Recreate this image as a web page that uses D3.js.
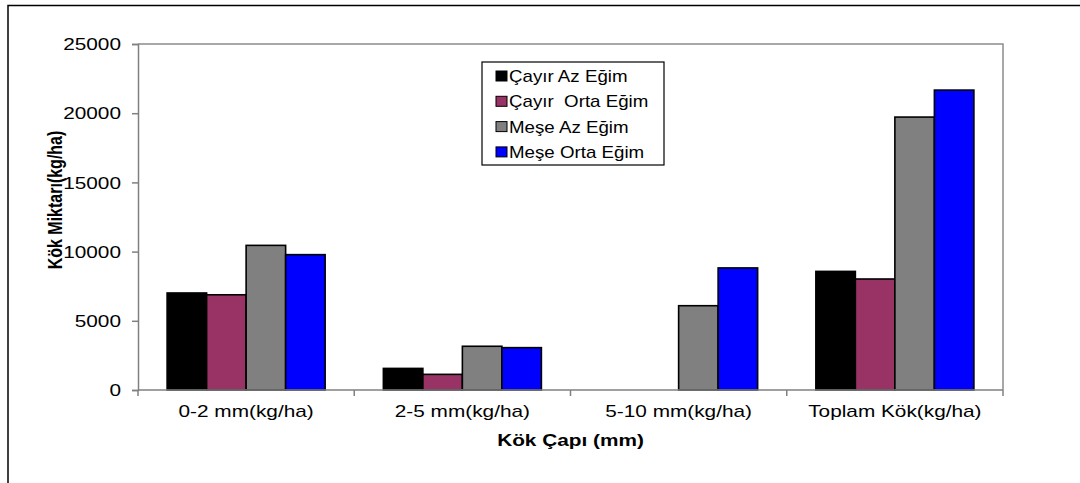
<!DOCTYPE html>
<html>
<head>
<meta charset="utf-8">
<script src="https://cdn.jsdelivr.net/npm/d3@7/dist/d3.min.js"></script>
<style>
  html, body { margin: 0; padding: 0; background: #fff; }
  svg { display: block; font-family: "Liberation Sans", Arial, sans-serif; }
</style>
</head>
<body>
<svg id="chart" width="1080" height="483"></svg>
<script>
// Root amounts (kg/ha) by root diameter class
const categories = ["0-2 mm(kg/ha)", "2-5 mm(kg/ha)", "5-10 mm(kg/ha)", "Toplam Kök(kg/ha)"];
const seriesNames = ["Çayır Az Eğim", "Çayır  Orta Eğim", "Meşe Az Eğim", "Meşe Orta Eğim"];
const cayirAz   = [7010, 1560, 0, 8570];
const cayirOrta = [6880, 1130, 0, 8020];
const meseAz    = [10450, 3160, 6090, 19720];
const meseOrta  = [9780, 3060, 8820, 21670];
const yTicks = [0, 5000, 10000, 15000, 20000, 25000];
const seriesColors = ["#000000", "#993366", "#808080", "#0000FF"];

const series = [cayirAz, cayirOrta, meseAz, meseOrta];

const svg = d3.select("#chart");
const plot = { left: 138, right: 1003, top: 44, bottom: 390 };
const STRETCH = 1.3; // horizontal text stretch

// Outer chart frame (top and left edges)
svg.append("path")
  .attr("d", `M8,483 V5.5 H1080`)
  .attr("fill", "none").attr("stroke", "#000").attr("stroke-width", 1.5);

const x = d3.scaleBand().domain(categories)
  .range([plot.left, plot.right]).paddingInner(0).paddingOuter(0);
const inner = d3.scaleBand().domain(d3.range(series.length))
  .range([0, x.bandwidth()]).paddingInner(0).paddingOuter(0.737);
const y = d3.scaleLinear().domain([0, 25000]).range([plot.bottom, plot.top]);

// Plot area border (top and right)
svg.append("path")
  .attr("d", `M${plot.left},${plot.top} H${plot.right} V${plot.bottom}`)
  .attr("fill", "none").attr("stroke", "#8c8c8c").attr("stroke-width", 1.5);

// Bars
const groups = svg.append("g").selectAll("g")
  .data(series).join("g")
  .attr("fill", (d, i) => seriesColors[i]);

groups.selectAll("rect")
  .data((vals, si) => vals.map((v, ci) => ({ v, ci, si })))
  .join("rect")
  .filter(d => d.v > 0)
  .attr("x", d => x(categories[d.ci]) + inner(d.si))
  .attr("width", inner.bandwidth())
  .attr("y", d => y(d.v))
  .attr("height", d => y(0) - y(d.v))
  .attr("stroke", "#000").attr("stroke-width", 1.6);

// Y axis
const yAxis = d3.axisLeft(y).tickValues(yTicks).tickSize(6).tickPadding(0)
  .tickFormat(d3.format("d"));
const gy = svg.append("g").attr("transform", `translate(${plot.left},0)`).call(yAxis);
gy.select(".domain").attr("stroke", "#808080").attr("stroke-width", 1.5);
gy.selectAll(".tick line").attr("stroke", "#808080").attr("stroke-width", 1.5);
gy.selectAll(".tick text")
  .attr("x", null).attr("dy", "0.35em")
  .attr("transform", `translate(-17,0) scale(${STRETCH},1)`)
  .attr("font-size", 16).attr("fill", "#000")
  .attr("font-family", "'Liberation Sans', Arial, sans-serif");

// X axis with ticks at category boundaries
const gx = svg.append("g").attr("transform", `translate(0,${plot.bottom})`);
gx.append("line").attr("x1", plot.left).attr("x2", plot.right)
  .attr("stroke", "#808080").attr("stroke-width", 1.5);
const bounds = categories.map(c => x(c)).concat([plot.right]);
gx.selectAll("line.tk").data(bounds).join("line").attr("class", "tk")
  .attr("x1", d => d).attr("x2", d => d).attr("y1", 0).attr("y2", 6)
  .attr("stroke", "#808080").attr("stroke-width", 1.5);
gx.selectAll("text").data(categories).join("text")
  .attr("transform", d => `translate(${x(d) + x.bandwidth() / 2},27) scale(${STRETCH},1)`)
  .attr("text-anchor", "middle").attr("font-size", 16).attr("fill", "#000")
  .text(d => d);

// Axis titles
svg.append("text")
  .attr("transform", `translate(${(plot.left + plot.right) / 2},446) scale(${STRETCH},1)`)
  .attr("text-anchor", "middle").attr("font-size", 16).attr("font-weight", "bold")
  .text("Kök Çapı (mm)");
svg.append("text")
  .attr("transform", `translate(62,200) scale(${STRETCH},1) rotate(-90)`)
  .attr("text-anchor", "middle").attr("font-size", 16).attr("font-weight", "bold")
  .text("Kök Miktarı(kg/ha)");

// Legend
const lg = svg.append("g").attr("transform", "translate(482,62)");
lg.append("rect").attr("width", 182).attr("height", 103)
  .attr("fill", "#fff").attr("stroke", "#000").attr("stroke-width", 1.2);
const items = lg.selectAll("g").data(seriesNames).join("g")
  .attr("transform", (d, i) => `translate(14,${14 + i * 25.3})`);
items.append("rect").attr("x", 0).attr("y", -5).attr("width", 11).attr("height", 10)
  .attr("fill", (d, i) => seriesColors[i]).attr("stroke", "#000").attr("stroke-width", 1);
items.append("text")
  .attr("transform", "translate(13,6) scale(1.17,1)")
  .attr("font-size", 16)
  .attr("xml:space", "preserve").style("white-space", "pre")
  .text(d => d);
</script>
</body>
</html>
